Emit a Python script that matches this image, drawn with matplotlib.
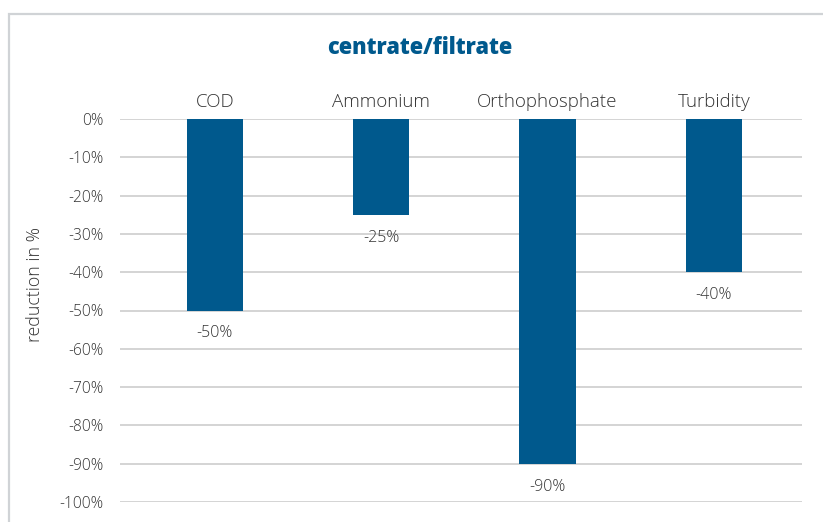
import matplotlib.pyplot as plt
from matplotlib.patches import Rectangle
from matplotlib.ticker import FuncFormatter

categorias = ["COD", "Ammonium", "Orthophosphate", "Turbidity"]
reducao = [-50, -25, -90, -40]
ticks_y = [0, -10, -20, -30, -40, -50, -60, -70, -80, -90, -100]

COR_BARRA = "#00598d"
COR_TEXTO = "#333333"
COR_GRADE = "#c9c9c9"

plt.rcParams["font.family"] = ["Open Sans", "DejaVu Sans"]
plt.rcParams["font.weight"] = "light"

fig = plt.figure(figsize=(8.23, 5.22), dpi=100)
fig.patch.set_facecolor("white")

# moldura cinza clara
fig.patches.append(Rectangle((9 / 823, -0.05), 1.0, (522 - 14) / 522 + 0.05,
                             transform=fig.transFigure, fill=False,
                             edgecolor="#d0d3d6", linewidth=1.6))

ax = fig.add_axes([120 / 823, 1 - 502 / 522, 682 / 823, (502 - 119) / 522])

x = range(len(categorias))
ax.bar(x, reducao, width=0.34, color=COR_BARRA, zorder=3)

for xi, v in zip(x, reducao):
    ax.annotate(f"{v}%", (xi, v), xytext=(0, -16.5), textcoords="offset points",
                ha="center", va="center", fontsize=11.5, color=COR_TEXTO)

ax.set_ylim(-100, 0)
ax.set_xlim(-0.57, 3.53)
ax.set_yticks(ticks_y)
ax.yaxis.set_major_formatter(FuncFormatter(lambda v, p: f"{int(v)}%"))
ax.grid(axis="y", color=COR_GRADE, linewidth=1.1, zorder=0)
ax.set_axisbelow(True)

ax.xaxis.tick_top()
ax.set_xticks(list(x))
ax.set_xticklabels(categorias)
ax.tick_params(axis="x", length=0, pad=6, labelsize=13.5, labelcolor=COR_TEXTO)
ax.tick_params(axis="y", length=0, pad=12, labelsize=11.2, labelcolor=COR_TEXTO)

for s in ax.spines.values():
    s.set_visible(False)

fig.text(35 / 823, 1 - 285 / 522, "reduction in %", rotation=90, ha="center",
         va="center", fontsize=12.8, color=COR_TEXTO)

fig.text(420 / 823, 1 - 48 / 522, "centrate/filtrate", ha="center", va="center",
         fontsize=15.7, fontweight="heavy", color=COR_BARRA)

fig.savefig("out.png", dpi=100)
